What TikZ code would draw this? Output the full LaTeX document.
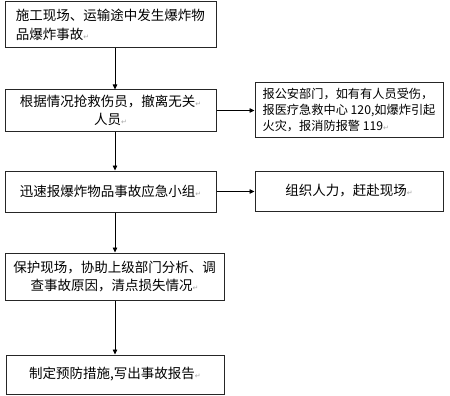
\documentclass[tikz,border=0pt]{standalone}
\usepackage{fontspec}
\usepackage{tikz}
\usetikzlibrary{arrows.meta}
\newfontfamily\cjk{Noto Sans CJK SC}
\newfontfamily\symfont{DejaVu Sans}
\newcommand{\retmark}{{\color{gray!70}\symfont\fontsize{7}{7}\selectfont ↵}}
\tikzset{
  flowbox/.style = {draw=black!85, line width=1pt, inner sep=3pt,
                    font=\cjk\fontsize{13.5}{18.5}\selectfont},
  sidebox/.style = {flowbox, font=\cjk\fontsize{12.2}{16}\selectfont},
  flowarr/.style = {-{Triangle[length=5pt,width=4.5pt]}, black, line width=0.8pt}
}

\begin{document}
\begin{tikzpicture}[x=1pt,y=-1pt]
  \useasboundingbox (0,0) rectangle (450,396);
  \node[flowbox, minimum width=211pt, minimum height=46pt, align=left] (b1) at (110.5,25)
       {施工现场、运输途中发生爆炸物\\品爆炸事故\retmark};
  \node[flowbox, minimum width=211pt, minimum height=41pt, align=center] (b2) at (110.5,110.5)
       {根据情况抢救伤员，撤离无关\retmark\\人员\retmark};
  \node[sidebox, minimum width=188pt, minimum height=54pt, align=left] (b3) at (349,110)
       {报公安部门，如有有人员受伤，\\报医疗急救中心 120,如爆炸引起\\火灾，报消防报警 119\retmark};
  \node[flowbox, minimum width=211pt, minimum height=41pt, align=center] (b4) at (110.5,191.5)
       {迅速报爆炸物品事故应急小组\retmark};
  \node[flowbox, minimum width=188pt, minimum height=40pt, align=center] (b5) at (349,191)
       {组织人力，赶赴现场\retmark};
  \node[flowbox, minimum width=219pt, minimum height=47pt, align=center] (b6) at (114.5,276.5)
       {保护现场，协助上级部门分析、调\\查事故原因，清点损失情况\retmark};
  \node[flowbox, minimum width=218pt, minimum height=39pt, align=center] (b7) at (115,374.5)
       {制定预防措施,写出事故报告\retmark};
  \draw[flowarr] (b1.south -| b7) -- (b2.north -| b7);
  \draw[flowarr] (b2.south -| b7) -- (b4.north -| b7);
  \draw[flowarr] (b4.south -| b7) -- (b6.north -| b7);
  \draw[flowarr] (b6.south -| b7) -- (b7.north);
  \draw[flowarr] (b2.east) -- (b2.east -| b3.west);
  \draw[flowarr] (b4.east) -- (b4.east -| b5.west);
\end{tikzpicture}
\end{document}
